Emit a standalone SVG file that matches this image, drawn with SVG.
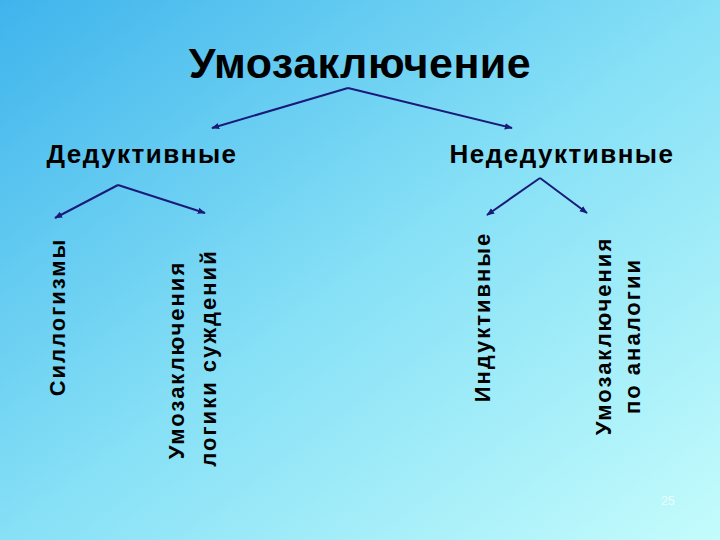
<svg xmlns="http://www.w3.org/2000/svg" width="720" height="540" viewBox="0 0 720 540">
<defs>
<linearGradient id="bg" x1="0" y1="0" x2="1" y2="1">
<stop offset="0" stop-color="#3fb4ec"/><stop offset="0.5" stop-color="#86e0f6"/><stop offset="1" stop-color="#c4fcfc"/>
</linearGradient>
<marker id="ah" viewBox="0 0 10 10" refX="9" refY="5" markerWidth="8" markerHeight="8" orient="auto" markerUnits="userSpaceOnUse">
<path d="M0,1 L10,5 L0,9 z" fill="#1a1a7a"/>
</marker>
<style>
text{font-family:"Liberation Sans",Arial,sans-serif;fill:#000}
.t{font-size:43px;font-weight:bold;letter-spacing:0.5px}
.h{font-size:26px;font-weight:bold;letter-spacing:1.5px}
.v{font-size:22px;font-weight:bold;letter-spacing:2px}
.c{fill:none;stroke:#1a1a7a;stroke-width:2;marker-end:url(#ah)}
</style>
</defs>
<rect width="720" height="540" fill="url(#bg)"/>
<g id="title"><text class="t" x="360" y="78" text-anchor="middle">Умозаключение</text></g>
<g id="ded"><text class="h" x="142" y="163" text-anchor="middle">Дедуктивные</text></g>
<g id="neded"><text class="h" x="562" y="163" text-anchor="middle">Недедуктивные</text></g>
<g id="syl"><text class="v" transform="translate(65,317) rotate(-90)" text-anchor="middle">Силлогизмы</text></g>
<g id="logic"><text class="v" transform="translate(184,360) rotate(-90)" text-anchor="middle">Умозаключения</text><text class="v" transform="translate(216,358) rotate(-90)" text-anchor="middle">логики суждений</text></g>
<g id="ind"><text class="v" transform="translate(490,317) rotate(-90)" text-anchor="middle">Индуктивные</text></g>
<g id="anal"><text class="v" transform="translate(611,336) rotate(-90)" text-anchor="middle">Умозаключения</text><text class="v" transform="translate(640,336) rotate(-90)" text-anchor="middle">по аналогии</text></g>
<g id="connectors">
<polyline class="c" points="348,88 212,128"/>
<polyline class="c" points="348,88 512,128"/>
<polyline class="c" points="118,185 55,218"/>
<polyline class="c" points="118,185 205,213"/>
<polyline class="c" points="540,178 487,215"/>
<polyline class="c" points="540,178 587,213"/>
</g>
<text x="668" y="505" font-size="12" text-anchor="middle" style="fill:#e8ffff">25</text>
</svg>
